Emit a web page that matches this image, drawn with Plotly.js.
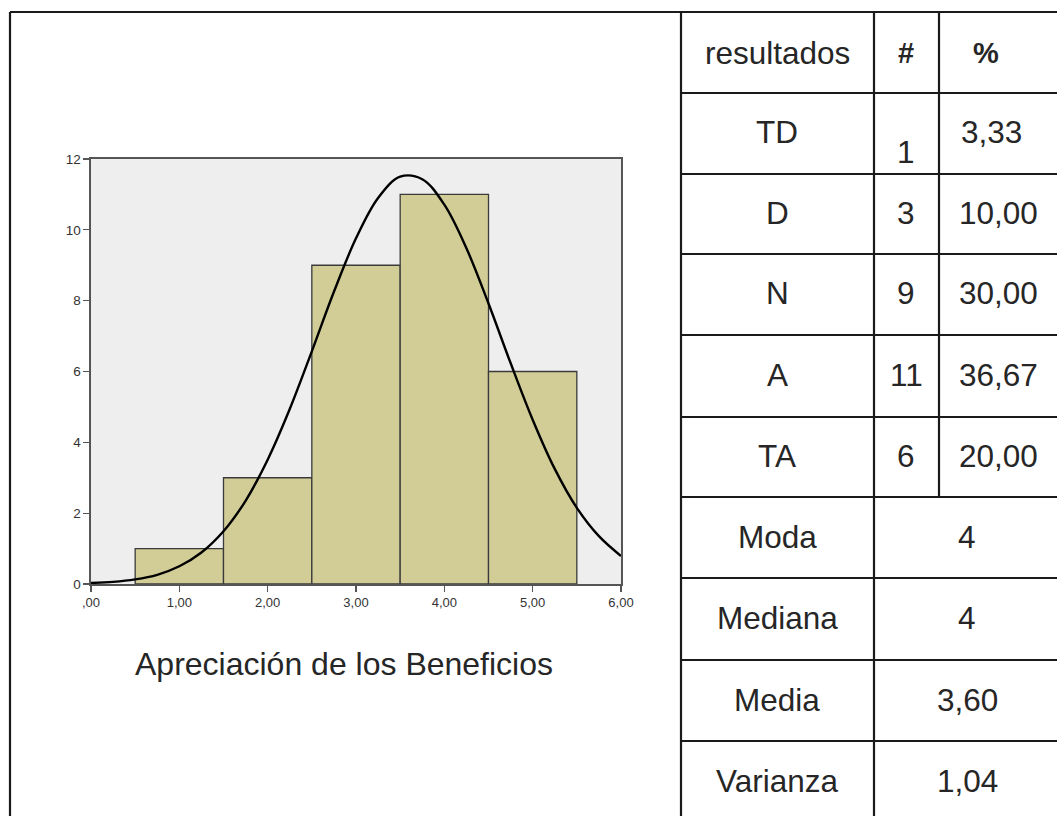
<!DOCTYPE html>
<html>
<head>
<meta charset="utf-8">
<script src="https://cdn.plot.ly/plotly-3.0.1.min.js"></script>
<style>html,body{margin:0;padding:0;background:#fff;}#chart{width:1057px;height:816px;}</style>
</head>
<body>
<div id="chart"></div>
<script>
// ---- data ----
const binCenters = [1, 2, 3, 4, 5];
const binCounts = [1, 3, 9, 11, 6];
const xTickVals = [0, 1, 2, 3, 4, 5, 6];
const xTickText = [",00", "1,00", "2,00", "3,00", "4,00", "5,00", "6,00"];
const yTickVals = [0, 2, 4, 6, 8, 10, 12];
// normal curve points
const curveX = [0, 0.25, 0.5, 0.75, 1.0, 1.25, 1.5, 1.75, 2.0, 2.25, 2.5, 2.75, 3.0, 3.25, 3.5, 3.75, 4.0, 4.25, 4.5, 4.75, 5.0, 5.25, 5.5, 5.75, 6.0];
const curveY = [0.03, 0.06, 0.13, 0.26, 0.50, 0.89, 1.49, 2.35, 3.51, 4.94, 6.57, 8.25, 9.76, 10.90, 11.50, 11.43, 10.71, 9.48, 7.92, 6.24, 4.64, 3.25, 2.15, 1.35, 0.79];
const chartTitle = "Apreciación de los Beneficios";

const headerLabels = ["resultados", "#", "%"];
const rowLabels = ["TD", "D", "N", "A", "TA"];
const rowCounts = ["1", "3", "9", "11", "6"];
const rowPercents = ["3,33", "10,00", "30,00", "36,67", "20,00"];
const statLabels = ["Moda", "Mediana", "Media", "Varianza"];
const statValues = ["4", "4", "3,60", "1,04"];

// ---- layout helpers (pixel -> paper) ----
const W = 1057, H = 816;
const px = v => v / W;
const py = v => 1 - v / H;

const colX = [681, 874, 939, 1070];
const rowY = [12, 93, 174, 254, 335, 417, 497, 578, 660, 741, 822];
const LC = '#1a1a1a', LW = 2.2;
const FONT = 'Liberation Sans, Arial, sans-serif';
const TXT = '#262626';
const shapes = [];
const annotations = [];

function line(x0, y0, x1, y1) {
  shapes.push({type: 'line', xref: 'paper', yref: 'paper', x0: px(x0), y0: py(y0), x1: px(x1), y1: py(y1), line: {color: LC, width: LW}});
}
function text(t, x, y, opts) {
  annotations.push(Object.assign({text: t, xref: 'paper', yref: 'paper', x: px(x), y: py(y), showarrow: false,
    xanchor: 'center', yanchor: 'middle', font: {family: FONT, size: 31.5, color: TXT}}, opts || {}));
}

// outer frame
line(10, 12, 1057, 12);
line(10, 12, 10, 816);
// table vertical lines
line(colX[0], 12, colX[0], 816);
line(colX[1], 12, colX[1], 816);
line(colX[2], 12, colX[2], rowY[6]);
// table horizontal lines
for (let i = 1; i < rowY.length - 1; i++) line(colX[0], rowY[i], 1057, rowY[i]);

// header
const c1 = 777, c2 = 906, c3 = 998, cMerged = 967;
text(headerLabels[0], c1, 53);
text('<b>' + headerLabels[1] + '</b>', c2, 53, {font: {family: FONT, size: 29, color: TXT}});
text('<b>' + headerLabels[2] + '</b>', 986, 53, {font: {family: FONT, size: 29, color: TXT}});
for (let i = 0; i < rowLabels.length; i++) {
  const yc = (rowY[i + 1] + rowY[i + 2]) / 2 - 1;
  text(rowLabels[i], c1, yc);
  text(rowCounts[i], c2, i === 0 ? yc + 19 : yc);
  text(rowPercents[i], i === 0 ? 991 : c3, yc);
}
for (let i = 0; i < statLabels.length; i++) {
  const yc = (rowY[i + 6] + rowY[i + 7]) / 2 - 1;
  text(statLabels[i], c1, yc);
  text(statValues[i], cMerged, yc);
}
// chart title
text(chartTitle, 344, 664, {font: {family: FONT, size: 32, color: TXT}});

const traces = [
  {type: 'bar', x: binCenters, y: binCounts, width: 1,
   marker: {color: '#d2cd97', line: {color: '#3a3a3a', width: 1.3}}, hoverinfo: 'skip'},
  {type: 'scatter', mode: 'lines', x: curveX, y: curveY,
   line: {color: '#000', width: 2.4, shape: 'spline', smoothing: 1.0}, hoverinfo: 'skip'}
];

const layout = {
  width: W, height: H,
  margin: {l: 0, r: 0, t: 0, b: 0},
  paper_bgcolor: '#fff',
  plot_bgcolor: '#eeeeee',
  showlegend: false,
  bargap: 0,
  xaxis: {domain: [px(91), px(621)], range: [0, 6], tickvals: xTickVals, ticktext: xTickText,
    showgrid: false, zeroline: false, showline: true, mirror: true, linecolor: '#555', linewidth: 1.6,
    ticks: 'outside', ticklen: 6, tickcolor: '#555', tickwidth: 1.2,
    tickfont: {family: FONT, size: 13, color: '#333'}},
  yaxis: {domain: [py(584), py(159)], range: [0, 12], tickvals: yTickVals,
    showgrid: false, zeroline: false, showline: true, mirror: true, linecolor: '#555', linewidth: 1.6,
    ticks: 'outside', ticklen: 6, tickcolor: '#555', tickwidth: 1.2,
    tickfont: {family: FONT, size: 13.5, color: '#333'}},
  shapes: shapes,
  annotations: annotations
};

Plotly.newPlot('chart', traces, layout, {staticPlot: true, displayModeBar: false});
</script>
</body>
</html>
